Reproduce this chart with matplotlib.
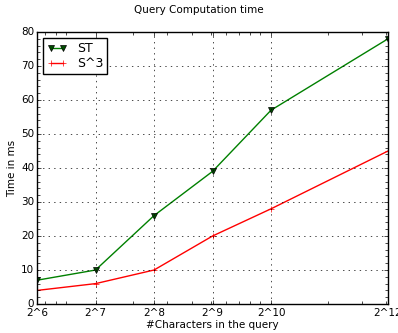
import matplotlib
matplotlib.use("Agg")
from matplotlib import pyplot as plt
from matplotlib import ticker

plt.style.use('classic')

# data
exponents = [6, 7, 8, 9, 10, 12]
sizes = [2 ** e for e in exponents]
tick_labels = ["2^6", "2^7", "2^8", "2^9", "2^10", "2^12"]
st_times = [7, 10, 26, 39, 57, 78]
s3_times = [4, 6, 10, 20, 28, 45]

fig = plt.figure(figsize=(3.98, 3.33), dpi=100)
ax = fig.add_axes([0.093, 0.087, 0.882, 0.817])

ax.plot(sizes, st_times, 'g-v', markerfacecolor=(0, 0.3, 0), markeredgecolor='k',
        markersize=5, linewidth=1, label='ST')
ax.plot(sizes, s3_times, 'r-+', markersize=5, linewidth=1, label='S^3')

ax.set_xscale('log')
ax.set_xlim(64, 4096)
ax.set_xticks(sizes)
ax.set_xticklabels(tick_labels)
ax.xaxis.set_minor_locator(ticker.LogLocator(base=10, subs=range(2, 10)))
ax.set_ylim(0, 80)
ax.yaxis.set_major_locator(ticker.MultipleLocator(10))
ax.yaxis.set_minor_locator(ticker.MultipleLocator(2))
ax.tick_params(labelsize=7.5, length=3)
ax.tick_params(axis='x', pad=3)
ax.tick_params(axis='y', pad=2)
ax.tick_params(which='minor', length=2)
ax.grid(True, which='major')

ax.set_xlabel('#Characters in the query', fontsize=7.5, labelpad=1)
ax.set_ylabel('Time in ms', fontsize=7.5, labelpad=3)
fig.suptitle('Query Computation time', fontsize=7.5, y=0.985)

ax.legend(loc='upper left', fontsize=9, numpoints=2, handlelength=1.6,
          borderpad=0.3, labelspacing=0.2, handletextpad=0.8)

fig.savefig('out.png', dpi=100)
